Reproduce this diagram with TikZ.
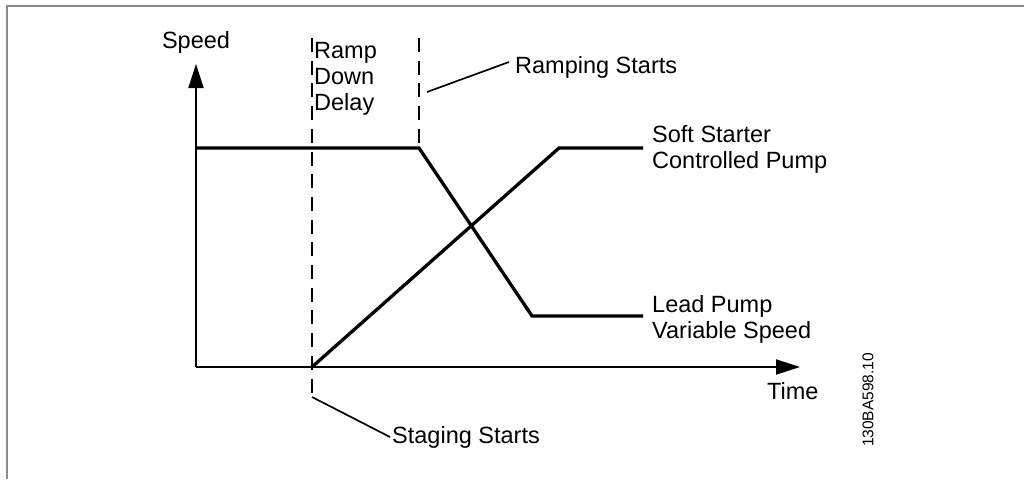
\documentclass[tikz,border=0pt]{standalone}
\usepackage{fontspec}
\setmainfont{Liberation Sans}
\usetikzlibrary{arrows.meta}
\tikzset{
  axis/.style={line width=2pt, -{Triangle[length=24pt,width=15pt]}},
  curve/.style={line width=3.3pt, line join=miter},
  marker/.style={line width=2.3pt, dash pattern=on 14pt off 8.7pt},
  leader/.style={line width=1.7pt},
  lbl/.style={font=\fontsize{23.5}{26}\selectfont, inner sep=0pt, align=left},
  frameline/.style={draw=black!45, line width=1.5pt}
}
\begin{document}
\begin{tikzpicture}[x=1pt,y=-1pt]
\useasboundingbox (0,0) rectangle (1024,479);
\draw[frameline] (7,479) -- (7,6) -- (1024,6);
% coordinates
\coordinate (O) at (196,367);
\coordinate (ytip) at (196,64);
\coordinate (xtip) at (800,367);
\coordinate (d1top) at (312,38);
\coordinate (d1bot) at (312,397);
\coordinate (d2top) at (419,38);
\coordinate (lp0) at (196,148);
\coordinate (lp1) at (419,148);
\coordinate (lp2) at (532,316);
\coordinate (lp3) at (643,316);
\coordinate (ss0) at (312,367);
\coordinate (ss1) at (559,148);
\coordinate (ss2) at (643,148);
\coordinate (rs0) at (427,92);
\coordinate (rs1) at (509,62);
\coordinate (st1) at (390,437);
% labels
\node[lbl] (speed) at (196,42) {Speed};
\node[lbl, anchor=west] (time) at (767,391) {Time};
\node[lbl, anchor=west] (rdd) at (314,79) {Ramp\\Down\\Delay};
\node[lbl, anchor=west] (ramps) at (515,67) {Ramping Starts};
\node[lbl, anchor=west] (ssc) at (652,149) {Soft Starter\\Controlled Pump};
\node[lbl, anchor=west] (lpv) at (652,319) {Lead Pump\\Variable Speed};
\node[lbl, anchor=west] (stag) at (392,437) {Staging Starts};
\node[font=\fontsize{15.5}{17}\selectfont, inner sep=0pt, rotate=90] (code) at (868,400) {130BA598.10};
% axes
\draw[axis] (O) -- (ytip);
\draw[axis] (O) -- (xtip);
% dashed markers
\draw[marker] (d1top) -- (d1bot);
\draw[marker] (d2top) -- (lp1);
% curves
\draw[curve] (lp0) -- (lp1) -- (lp2) -- (lp3);
\draw[curve] (ss0) -- (ss1) -- (ss2);
% leaders
\draw[leader] (rs0) -- (rs1);
\draw[leader] (d1bot) -- (st1);
\end{tikzpicture}
\end{document}
